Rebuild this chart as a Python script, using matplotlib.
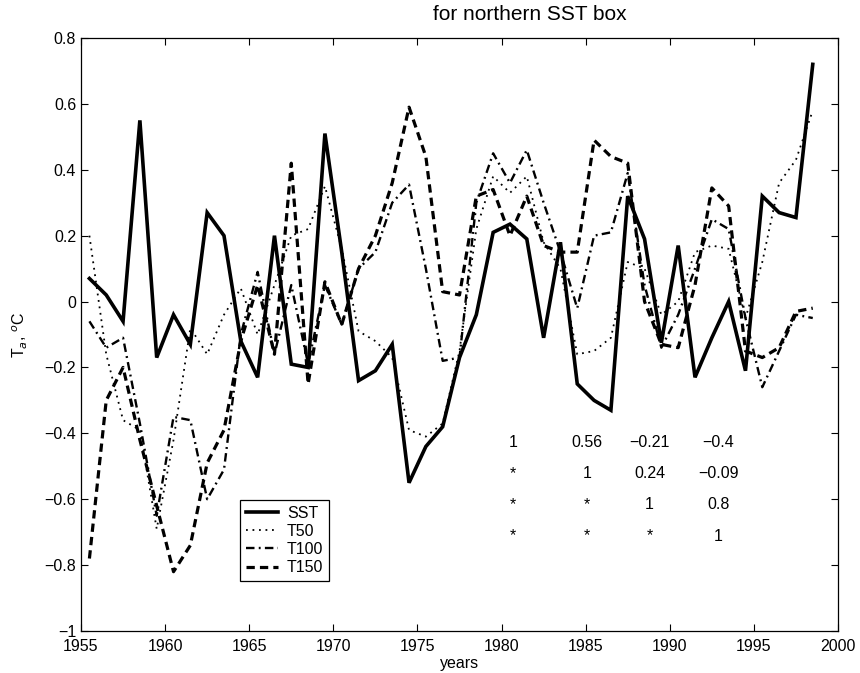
import matplotlib
matplotlib.use("Agg")
import matplotlib.pyplot as plt
import numpy as np

plt.rcParams['font.family'] = ['Liberation Sans', 'DejaVu Sans']

years = np.arange(1955.5, 1999.0, 1.0)

sst = [0.07, 0.02, -0.06, 0.55, -0.17, -0.04, -0.13, 0.27, 0.20, -0.12,
       -0.23, 0.20, -0.19, -0.20, 0.51, 0.15, -0.24, -0.21, -0.13, -0.55,
       -0.44, -0.38, -0.17, -0.04, 0.21, 0.235, 0.19, -0.11, 0.18, -0.25,
       -0.30, -0.33, 0.32, 0.19, -0.125, 0.17, -0.23, -0.11, 0.0, -0.21,
       0.32, 0.27, 0.255, 0.72]
t50 = [0.20, -0.16, -0.36, -0.39, -0.69, -0.42, -0.08, -0.16, -0.04, 0.04,
       -0.10, 0.05, 0.20, 0.22, 0.35, 0.16, -0.09, -0.12, -0.17, -0.39,
       -0.41, -0.37, -0.15, 0.22, 0.38, 0.33, 0.38, 0.18, 0.10, -0.16,
       -0.15, -0.11, 0.12, 0.10, -0.04, 0.0, 0.15, 0.17, 0.16, -0.05,
       0.12, 0.36, 0.43, 0.58]
t100 = [-0.06, -0.14, -0.11, -0.37, -0.65, -0.35, -0.36, -0.60, -0.51, -0.10,
        0.09, -0.16, 0.05, -0.19, 0.05, -0.07, 0.10, 0.15, 0.30, 0.355,
        0.10, -0.18, -0.17, 0.30, 0.45, 0.36, 0.46, 0.30, 0.15, -0.02,
        0.20, 0.21, 0.39, 0.05, -0.14, -0.04, 0.10, 0.25, 0.22, -0.05,
        -0.26, -0.15, -0.04, -0.05]
t150 = [-0.78, -0.30, -0.20, -0.42, -0.62, -0.82, -0.74, -0.49, -0.39, -0.12,
        0.05, -0.16, 0.42, -0.25, 0.06, -0.07, 0.10, 0.20, 0.36, 0.59,
        0.44, 0.03, 0.02, 0.32, 0.34, 0.20, 0.32, 0.17, 0.15, 0.15,
        0.49, 0.44, 0.42, 0.00, -0.13, -0.14, 0.05, 0.345, 0.29, -0.15,
        -0.17, -0.14, -0.03, -0.02]

corr_rows = [["1", "0.56", "\u22120.21", "\u22120.4"],
             ["*", "1", "0.24", "\u22120.09"],
             ["*", "*", "1", "0.8"],
             ["*", "*", "*", "1"]]
col_x = [1980.68, 1985.1, 1988.8, 1992.9]
row_y = [-0.427, -0.521, -0.617, -0.712]

xticks = list(range(1955, 2001, 5))
yticks = [-1, -0.8, -0.6, -0.4, -0.2, 0, 0.2, 0.4, 0.6, 0.8]
ytick_labels = ["\u22121", "\u22120.8", "\u22120.6", "\u22120.4", "\u22120.2",
                "0", "0.2", "0.4", "0.6", "0.8"]

FS = 11.5

fig = plt.figure(figsize=(8.6, 6.73), dpi=100)
ax = fig.add_axes([81/860, 1-631/673, (838-81)/860, (631-38)/673])

ax.plot(years, sst, color='black', lw=2.6, solid_joinstyle='miter', label='SST')
ax.plot(years, t50, color='black', lw=1.3, linestyle=(0, (1.0, 2.6)), label='T50')
ax.plot(years, t100, color='black', lw=1.7, linestyle=(0, (3.6, 1.8, 0.8, 1.8)), label='T100')
ax.plot(years, t150, color='black', lw=2.3, linestyle=(0, (2.6, 1.6)), label='T150')

for r, row in enumerate(corr_rows):
    for c, txt in enumerate(row):
        ax.text(col_x[c], row_y[r], txt, ha='center', va='center', fontsize=FS)

ax.set_xlim(1955, 2000)
ax.set_ylim(-1, 0.8)
ax.set_xticks(xticks)
ax.set_yticks(yticks)
ax.set_yticklabels(ytick_labels)
ax.tick_params(direction='in', top=True, right=True, length=5, labelsize=FS, width=0.8)
ax.tick_params(axis='x', pad=6)
for s in ax.spines.values():
    s.set_linewidth(0.9)

ax.set_xlabel('years', fontsize=FS, labelpad=1)
ax.set_ylabel('T$_a$, $^o$C', fontsize=FS, labelpad=10)
ax.text(1981.7, 0.872, 'for northern SST box', ha='center', va='center', fontsize=15)

leg = ax.legend(loc='upper left', bbox_to_anchor=(0.21, 0.221), borderaxespad=0,
                fancybox=False, edgecolor='black', framealpha=1, fontsize=FS,
                handlelength=2.0, handletextpad=0.6, labelspacing=0.2,
                borderpad=0.35)
leg.get_frame().set_linewidth(0.9)

fig.savefig('out.png', dpi=100)
